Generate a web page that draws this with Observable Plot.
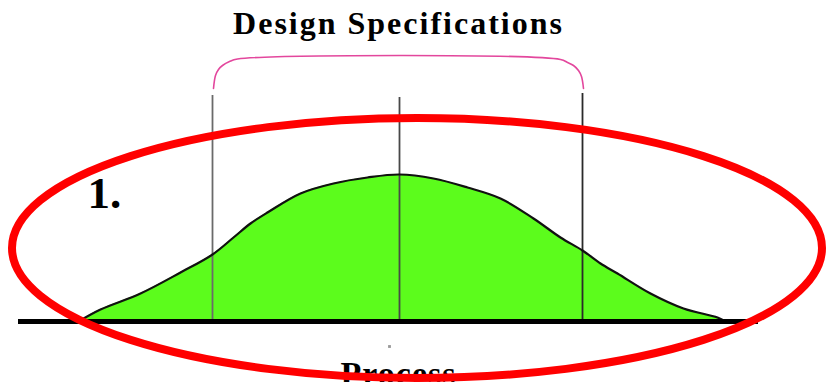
<!DOCTYPE html>
<html>
<head>
<meta charset="utf-8">
<script src="https://cdn.jsdelivr.net/npm/d3@7"></script>
<script src="https://cdn.jsdelivr.net/npm/@observablehq/plot@0.6"></script>
<style>
  html, body { margin: 0; padding: 0; background: #fff; }
  #chart svg { display: block; }
</style>
</head>
<body>
<div id="chart"></div>
<script>
// Process distribution curve (horizontal position, height above baseline)
const curveX = [78, 100, 140, 180, 212, 233, 250, 267, 300, 333, 367, 399, 433, 467, 500, 533, 560, 582, 600, 617, 650, 683, 717, 725];
const curveH = [0, 12, 28, 49, 67, 84, 98, 109, 128, 138, 144, 147, 143, 134, 123, 103, 84, 71, 58, 48, 28, 13, 4, 0];

// Specification lines: lower limit, target, upper limit
const specNames = ["LSL", "Target", "USL"];
const specX = [212, 399, 582];
const specTop = [226, 224, 228];
const specColor = ["#6a6a6a", "#484848", "#2a2a2a"];

// Bracket over the specification range
const bracketX = [213, 215, 218, 222, 229, 237, 560, 567, 573, 578, 581, 583];
const bracketH = [233, 246, 252, 256, 260, 262.5, 262, 259, 256, 251, 245, 233];

// Baseline extent
const baseX = [18, 758];

// Highlight ellipse (center, radii)
const ellipseC = [417, 73];
const ellipseR = [405, 130];

// Text labels
const titleText = ["Design Specifications"];
const stepText = ["1."];
const axisText = ["Process"];

const curve = curveX.map((x, i) => ({x, h: curveH[i]}));
const specs = specNames.map((n, i) => ({name: n, x: specX[i], top: specTop[i], color: specColor[i]}));
const bracket = bracketX.map((x, i) => ({x, h: bracketH[i]}));

function ellipseMark(...args) {
  const scales = args.find(a => a && !Array.isArray(a) && typeof a.x === "function" && typeof a.y === "function");
  const sx = scales.x, sy = scales.y;
  const el = document.createElementNS("http://www.w3.org/2000/svg", "ellipse");
  const cx = sx(ellipseC[0]), cy = sy(ellipseC[1]);
  el.setAttribute("cx", cx);
  el.setAttribute("cy", cy);
  el.setAttribute("rx", Math.abs(sx(ellipseC[0] + ellipseR[0]) - cx));
  el.setAttribute("ry", Math.abs(sy(ellipseC[1] + ellipseR[1]) - cy));
  el.setAttribute("fill", "none");
  el.setAttribute("stroke", "#ff0000");
  el.setAttribute("stroke-width", 8);
  return el;
}

const serif = "'Liberation Serif', 'Times New Roman', serif";

const chart = Plot.plot({
  width: 827,
  height: 382,
  margin: 0,
  style: {background: "#fff", overflow: "hidden"},
  x: {domain: [0, 827], axis: null},
  y: {domain: [-61, 321], axis: null},
  marks: [
    Plot.areaY(curve, {x: "x", y: "h", fill: "#5cfc1c", curve: "catmull-rom"}),
    Plot.ruleX(specs, {x: "x", y1: 0, y2: "top", stroke: "color", strokeWidth: 1.8}),
    Plot.line(curve, {x: "x", y: "h", stroke: "#111", strokeWidth: 2.2, curve: "catmull-rom"}),
    Plot.ruleY([0], {x1: baseX[0], x2: baseX[1], stroke: "#000", strokeWidth: 5}),
    Plot.line(bracket, {x: "x", y: "h", stroke: "#e3479d", strokeWidth: 1.6, curve: "catmull-rom"}),
    Plot.text(titleText, {x: specX[1] - 1, y: 288, text: d => d, fontFamily: serif, fontWeight: "bold", fontSize: 32, fill: "#000", lineAnchor: "bottom", textAnchor: "middle"}),
    Plot.text(stepText, {x: 87, y: 114, text: d => d, fontFamily: serif, fontWeight: "bold", fontSize: 45, fill: "#000", textAnchor: "start", lineAnchor: "bottom"}),
    Plot.dot([specX[1]], {x: d => d - 10, y: -25, r: 1.6, symbol: "square", fill: "#999"}),
    Plot.text(axisText, {x: specX[1] - 1, y: -63, text: d => d, fontFamily: serif, fontWeight: "bold", fontSize: 34, fill: "#000", lineAnchor: "bottom", textAnchor: "middle"}),
    ellipseMark
  ]
});
d3.select(chart).selectAll("text")
  .filter(function() { return this.textContent === titleText[0]; })
  .style("letter-spacing", "2px");
d3.select(chart).selectAll("text")
  .filter(function() { return this.textContent === axisText[0]; })
  .style("letter-spacing", "1px");
document.getElementById("chart").appendChild(chart);
</script>
</body>
</html>
